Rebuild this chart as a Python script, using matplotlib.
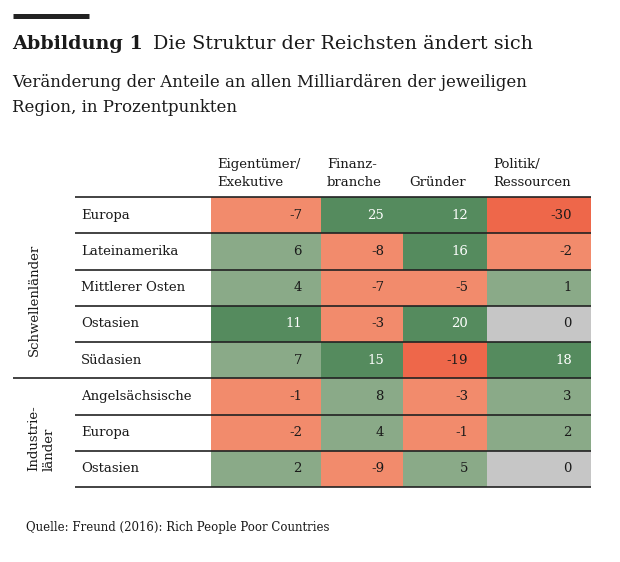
"""Heatmap table: Veränderung der Anteile an allen Milliardären je Region."""

import matplotlib
matplotlib.use("Agg")
import matplotlib.pyplot as plt
from matplotlib.patches import Rectangle

# --- data -----------------------------------------------------------------
columns = ["Eigentümer/\nExekutive", "Finanz-\nbranche", "Gründer", "Politik/\nRessourcen"]
groups = ["Schwellenländer", "Industrie-\nländer"]
rows_schwellen = ["Europa", "Lateinamerika", "Mittlerer Osten", "Ostasien", "Südasien"]
rows_industrie = ["Angelsächsische", "Europa", "Ostasien"]
values_schwellen = [
    [-7, 25, 12, -30],
    [6, -8, 16, -2],
    [4, -7, -5, 1],
    [11, -3, 20, 0],
    [7, 15, -19, 18],
]
values_industrie = [
    [-1, 8, -3, 3],
    [-2, 4, -1, 2],
    [2, -9, 5, 0],
]

TITLE_BOLD = "Abbildung 1"
TITLE_REST = "Die Struktur der Reichsten ändert sich"
SUBTITLE = ["Veränderung der Anteile an allen Milliardären der jeweiligen",
            "Region, in Prozentpunkten"]
SOURCE = "Quelle: Freund (2016): Rich People Poor Countries"

# --- style ------------------------------------------------------------------
DARK_GREEN = "#558b5e"
LIGHT_GREEN = "#8aaa88"
SALMON = "#f28b6c"
RED = "#ee674a"
GRAY = "#c6c6c6"
LINE = "#222222"
TEXT = "#1a1a1a"
FONT = "DejaVu Serif"


def cell_color(v):
    if v >= 10:
        return DARK_GREEN
    if v > 0:
        return LIGHT_GREEN
    if v == 0:
        return GRAY
    if v > -19:
        return SALMON
    return RED


W, H = 620, 562
fig = plt.figure(figsize=(W / 100, H / 100), dpi=100)
ax = fig.add_axes([0, 0, 1, 1])
ax.set_xlim(0, W)
ax.set_ylim(H, 0)
ax.axis("off")

# column edges in pixels (label column + 4 data columns)
label_x0 = 75
col_edges = [211, 321, 403, 487, 591]
top = 197
row_h = 36.25

# top rule
ax.plot([13, 89], [15.5, 15.5], color=LINE, lw=3.6, solid_capstyle="butt")

# title
t = ax.text(12, 49, TITLE_BOLD, fontsize=13.8, fontweight="bold", family=FONT,
            color=TEXT, va="baseline")
fig.canvas.draw()
bb = t.get_window_extent()
ax.text(bb.x1 + 10, 49, TITLE_REST, fontsize=13.8, family=FONT, color=TEXT,
        va="baseline")

for i, line in enumerate(SUBTITLE):
    ax.text(12, 87 + i * 25, line, fontsize=12, family=FONT, color=TEXT,
            va="baseline")

# column headers
for i, name in enumerate(columns):
    x = col_edges[i] + 6
    lines = name.split("\n")
    if len(lines) == 1:
        ax.text(x, 186, lines[0], fontsize=9.5, family=FONT, color=TEXT, va="baseline")
    else:
        ax.text(x, 168, lines[0], fontsize=9.5, family=FONT, color=TEXT, va="baseline")
        ax.text(x, 186, lines[1], fontsize=9.5, family=FONT, color=TEXT, va="baseline")

all_rows = rows_schwellen + rows_industrie
all_values = values_schwellen + values_industrie

for r, (label, vals) in enumerate(zip(all_rows, all_values)):
    y0 = top + r * row_h
    ax.text(label_x0 + 6, y0 + row_h / 2, label, fontsize=9.5, family=FONT,
            color=TEXT, va="center")
    for c, v in enumerate(vals):
        color = cell_color(v)
        ax.add_patch(Rectangle((col_edges[c], y0), col_edges[c + 1] - col_edges[c],
                               row_h, facecolor=color, edgecolor="none"))
        txt_color = "white" if color == DARK_GREEN else TEXT
        ax.text(col_edges[c + 1] - 19, y0 + row_h / 2, str(v), fontsize=9.5,
                family=FONT, color=txt_color, ha="right", va="center")

# horizontal rules
n_rows = len(all_rows)
for r in range(n_rows + 1):
    y = top + r * row_h
    x0 = 13 if r == len(rows_schwellen) else label_x0
    ax.plot([x0, col_edges[-1]], [y, y], color=LINE, lw=1.2, solid_capstyle="butt")

# group labels
ax.text(34, 300, groups[0], rotation=90, fontsize=9.5, family=FONT, color=TEXT,
        ha="center", va="center")
ax.text(41, 438, groups[1], rotation=90, fontsize=9.5, family=FONT, color=TEXT,
        ha="center", va="center", multialignment="left", linespacing=1.25)

ax.text(26, 527, SOURCE, fontsize=8.5, family=FONT, color=TEXT, va="center")

fig.savefig("out.png", dpi=100)
